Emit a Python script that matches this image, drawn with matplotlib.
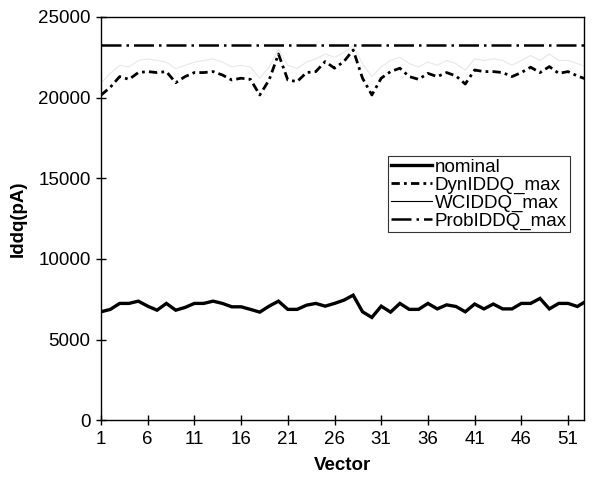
import numpy as np
import matplotlib
matplotlib.use("Agg")
import matplotlib.pyplot as plt
from matplotlib.lines import Line2D

plt.rcParams['font.family'] = ['Liberation Sans', 'DejaVu Sans']

# data (vectors 1..53)
vectors = list(range(1, 54))
nominal = [6720, 6870, 7240, 7240, 7380, 7070, 6820, 7240, 6820, 6990,
           7240, 7240, 7380, 7240, 7030, 7030, 6870, 6700, 7070, 7380,
           6870, 6870, 7130, 7240, 7070, 7240, 7440, 7750, 6720, 6370,
           7070, 6700, 7240, 6870, 6870, 7240, 6900, 7150, 7050, 6720,
           7200, 6900, 7200, 6900, 6900, 7240, 7240, 7550, 6900, 7240,
           7240, 7050, 7400]
dyn_max = [20150, 20640, 21300, 21130, 21550, 21610, 21550, 21610, 20920, 21300,
           21550, 21550, 21610, 21400, 21090, 21200, 21130, 20160, 21090, 22700,
           21090, 20990, 21550, 21610, 22230, 21820, 22230, 22950, 21200, 20160,
           21200, 21610, 21820, 21300, 21130, 21500, 21300, 21550, 21340, 20840,
           21710, 21610, 21610, 21550, 21300, 21550, 21880, 21550, 21920, 21500,
           21610, 21340, 21130]
wc_max = [20900, 21500, 22000, 21900, 22300, 22400, 22300, 22200, 21800, 22000,
          22200, 22300, 22400, 22200, 21900, 22000, 21900, 21200, 21900, 23000,
          22000, 21800, 22200, 22400, 22700, 22500, 22800, 23200, 22100, 21300,
          21900, 22300, 22500, 22100, 21900, 22200, 22000, 22300, 22100, 21700,
          22400, 22300, 22400, 22300, 22000, 22300, 22600, 22300, 22700, 22300,
          22300, 22100, 21900]
prob_max = [23250] * 53

fig = plt.figure(figsize=(5.94, 4.83), dpi=100)
ax = fig.add_axes([0.170, 0.130, 0.813, 0.835])

ax.plot(vectors, wc_max, color='#e8e8e8', lw=0.8)
ax.plot(vectors, prob_max, color='black', lw=1.8, linestyle=(0, (8, 2, 1, 2)))
ax.plot(vectors, dyn_max, color='black', lw=2.0, linestyle=(0, (3, 1.5, 1, 1.5)))
ax.plot(vectors, nominal, color='black', lw=2.4, solid_joinstyle='miter')

ax.set_xlim(1, 52.7)
ax.set_ylim(0, 25000)
ax.set_xticks(range(1, 53, 5))
ax.set_yticks(range(0, 25001, 5000))
ax.tick_params(direction='inout', length=7, width=1, labelsize=13.5,
               colors='black', pad=4)
for s in ax.spines.values():
    s.set_linewidth(1.0)

ax.set_xlabel('Vector', fontsize=13.5, fontweight='bold', labelpad=7)
ax.set_ylabel('Iddq(pA)', fontsize=13.5, fontweight='bold', labelpad=8)

handles = [
    Line2D([], [], color='black', lw=2.4),
    Line2D([], [], color='black', lw=2.0, linestyle=(0, (3, 1.5, 1, 1.5))),
    Line2D([], [], color='black', lw=0.8),
    Line2D([], [], color='black', lw=1.8, linestyle=(0, (8, 2, 1, 2))),
]
labels = ['nominal', 'DynIDDQ_max', 'WCIDDQ_max', 'ProbIDDQ_max']
leg = ax.legend(handles, labels, loc='upper left', bbox_to_anchor=(0.594, 0.655),
                fontsize=13.5, frameon=True, fancybox=False, handlelength=2.2,
                handletextpad=0.15, borderpad=0.15, labelspacing=0.03,
                borderaxespad=0)
leg.get_frame().set_edgecolor('black')
leg.get_frame().set_linewidth(0.8)

fig.savefig('out.png', dpi=100)
